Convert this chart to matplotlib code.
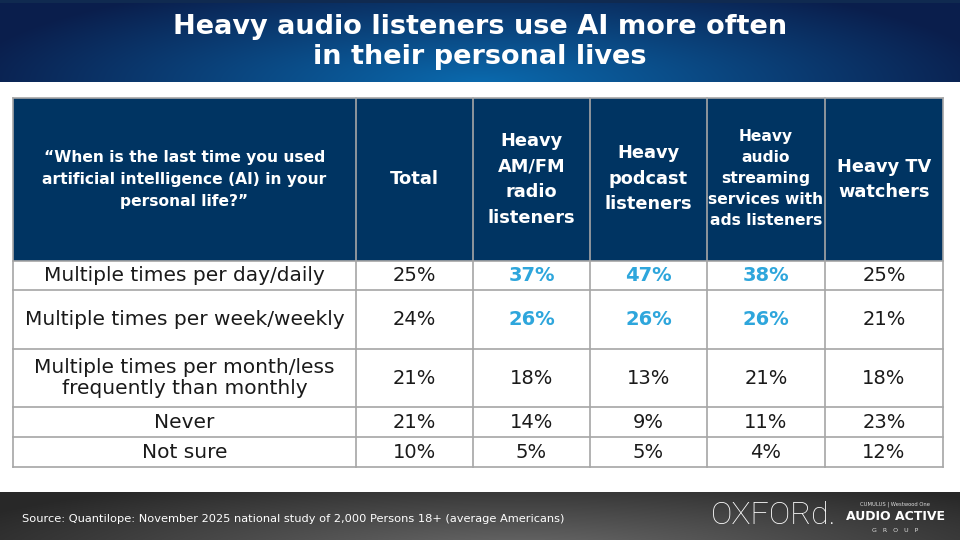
import numpy as np
import matplotlib
matplotlib.use('Agg')
import matplotlib.pyplot as plt
from matplotlib.patches import Rectangle

title = 'Heavy audio listeners use AI more often\nin their personal lives'
question = '\u201cWhen is the last time you used\nartificial intelligence (AI) in your\npersonal life?\u201d'
col_heads = ['Total', 'Heavy\nAM/FM\nradio\nlisteners', 'Heavy\npodcast\nlisteners',
             'Heavy\naudio\nstreaming\nservices with\nads listeners', 'Heavy TV\nwatchers']
row_labels = ['Multiple times per day/daily', 'Multiple times per week/weekly',
              'Multiple times per month/less\nfrequently than monthly', 'Never', 'Not sure']
total = [25, 24, 21, 21, 10]
amfm = [37, 26, 18, 14, 5]
podcast = [47, 26, 13, 9, 5]
streaming = [38, 26, 21, 11, 4]
tv = [25, 21, 18, 23, 12]
highlight = [[False, False, False, False, False],
             [True, True, False, False, False],
             [True, True, False, False, False],
             [True, True, False, False, False],
             [False, False, False, False, False]]
source = 'Source: Quantilope: November 2025 national study of 2,000 Persons 18+ (average Americans)'

series = [total, amfm, podcast, streaming, tv]
xb = [13, 356, 473, 590, 707, 825, 943]
yb = [98, 261, 290, 349, 407, 437, 467]

NAVY = '#003462'
BLUE = '#2ea6dc'
GRID = '#a6a6a6'
FONT = 'DejaVu Sans'

fig = plt.figure(figsize=(9.6, 5.4), dpi=100)
ax = fig.add_axes([0, 0, 1, 1])
ax.set_xlim(0, 960)
ax.set_ylim(540, 0)
ax.axis('off')

# title band gradient
yy, xx = np.mgrid[0:82, 0:960]
d = np.sqrt(((xx - 480) / 520.0) ** 2 + ((yy - 82) / 110.0) ** 2)
d = np.clip(d, 0, 1)
c_in = np.array([0x0b, 0x6a, 0xae]) / 255.0
c_out = np.array([0x0a, 0x1e, 0x4c]) / 255.0
band = c_in[None, None, :] * (1 - d[..., None]) + c_out[None, None, :] * d[..., None]
band[0:3] = np.array([0x10, 0x2a, 0x50]) / 255.0
ax.imshow(band, extent=(0, 960, 82, 0), aspect='auto', zorder=0)

# footer band gradient
yy, xx = np.mgrid[0:48, 0:960]
d = np.sqrt(((xx - 520) / 600.0) ** 2 + ((yy - 60) / 80.0) ** 2)
d = np.clip(d, 0, 1)
g = 0.42 * (1 - d) + 0.16 * d
foot = np.dstack([g, g, g])
ax.imshow(foot, extent=(0, 960, 540, 492), aspect='auto', zorder=0)

ax.text(480, 42, title, ha='center', va='center', color='white', fontsize=19.5,
        fontweight='bold', family=['Liberation Sans Narrow', 'DejaVu Sans'],
        linespacing=1.22, zorder=3)

# header row
ax.add_patch(Rectangle((xb[0], yb[0]), xb[-1] - xb[0], yb[1] - yb[0],
                       facecolor=NAVY, edgecolor='none', zorder=1))
hc = (yb[0] + yb[1]) / 2
ax.text((xb[0] + xb[1]) / 2, hc, question, ha='center', va='center', color='white',
        fontsize=11.2, fontweight='bold', family=FONT, linespacing=1.58, zorder=3)
head_sizes = [13, 12.8, 12.8, 11.2, 12.8]
head_spacing = [1.2, 1.55, 1.55, 1.5, 1.5]
head_dy = [0, 0, -1, -1, 0]
for j, h in enumerate(col_heads):
    ax.text((xb[j + 1] + xb[j + 2]) / 2, hc + head_dy[j], h, ha='center', va='center',
            color='white', fontsize=head_sizes[j], fontweight='bold', family=FONT,
            linespacing=head_spacing[j], zorder=3)

# body
for i, lab in enumerate(row_labels):
    yc = (yb[i + 1] + yb[i + 2]) / 2
    ax.text((xb[0] + xb[1]) / 2, yc, lab, ha='center', va='center', color='#1a1a1a',
            fontsize=14.5, family=FONT, linespacing=1.12, zorder=3)
    for j, s in enumerate(series):
        hl = highlight[j][i]
        ax.text((xb[j + 1] + xb[j + 2]) / 2, yc, '%d%%' % s[i], ha='center', va='center',
                color=BLUE if hl else '#1a1a1a', fontsize=14,
                fontweight='bold' if hl else 'normal', family=FONT, zorder=3)

# grid lines
for x in xb:
    ax.plot([x, x], [yb[0], yb[-1]], color=GRID, lw=1.2, zorder=2)
for y in yb:
    ax.plot([xb[0], xb[-1]], [y, y], color=GRID, lw=1.2, zorder=2)

# footer
ax.text(22, 519, source, ha='left', va='center', color='white', fontsize=8.2,
        family=FONT, zorder=3)
ax.text(711, 516, 'OXFORd.', ha='left', va='center', color='white', fontsize=23,
        family='Roboto', fontweight='light', zorder=3)
ax.text(895, 504, 'CUMULUS | Westwood One', ha='center', va='center', color='#dddddd',
        fontsize=3.8, family=FONT, zorder=3)
ax.text(895, 517, 'AUDIO ACTIVE', ha='center', va='center', color='white', fontsize=9,
        fontweight='bold', family=FONT, zorder=3)
ax.text(895, 530, 'G   R   O   U   P', ha='center', va='center', color='#dddddd',
        fontsize=4.5, family=FONT, zorder=3)

fig.savefig('out.png', dpi=100)
